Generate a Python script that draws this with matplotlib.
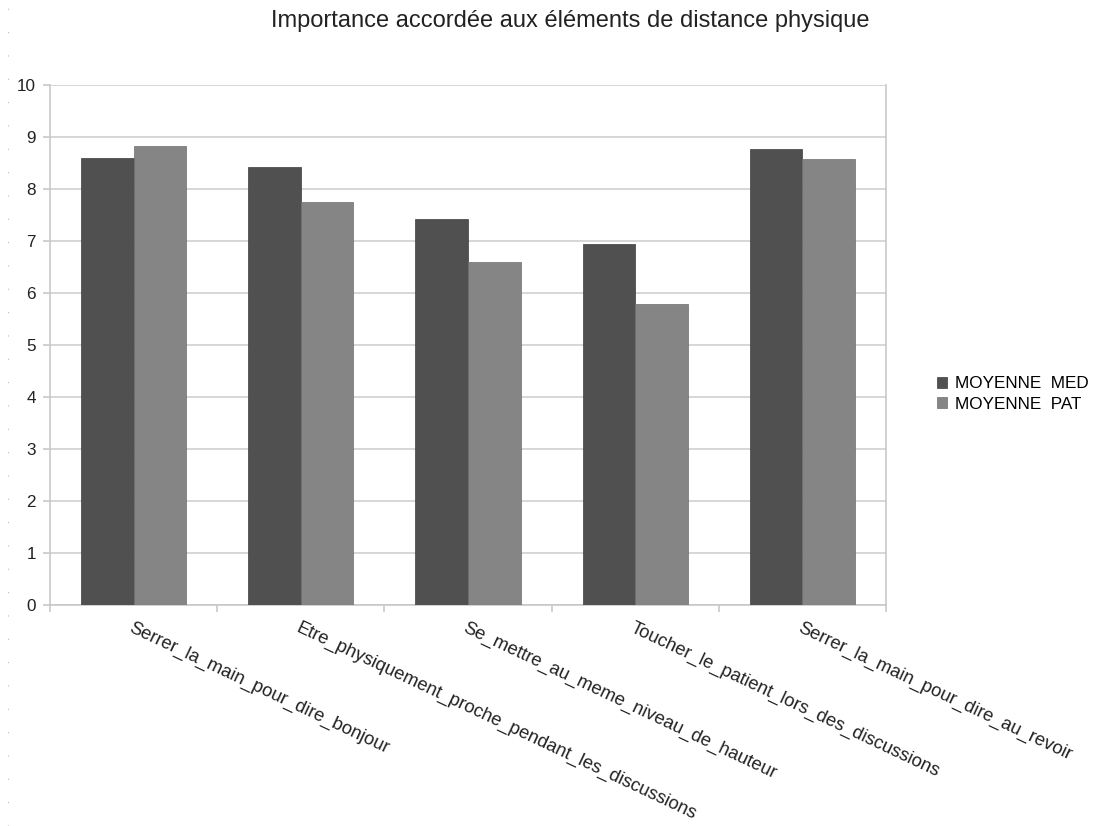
import numpy as np
import matplotlib
matplotlib.use('Agg')
import matplotlib.pyplot as plt
from matplotlib.lines import Line2D

plt.rcParams['font.family'] = ['Liberation Sans', 'DejaVu Sans']

categories = ['Serrer_la_main_pour_dire_bonjour',
              'Etre_physiquement_proche_pendant_les_discussions',
              'Se_mettre_au_meme_niveau_de_hauteur',
              'Toucher_le_patient_lors_des_discussions',
              'Serrer_la_main_pour_dire_au_revoir']
moyenne_med = [8.60, 8.42, 7.42, 6.95, 8.77]
moyenne_pat = [8.83, 7.76, 6.61, 5.80, 8.58]
series_names = ['MOYENNE  MED', 'MOYENNE  PAT']
colors = ['#505050', '#858585']

fig = plt.figure(figsize=(10.96, 8.26), dpi=100)
ax = fig.add_axes([0.0456, 0.2672, 0.7628, 0.6295])

x = np.arange(len(categories))
w = 0.315
ax.bar(x - w/2, moyenne_med, w, color=colors[0], edgecolor='#3c3c3c', linewidth=0.5,
       label=series_names[0], zorder=3)
ax.bar(x + w/2, moyenne_pat, w, color=colors[1], edgecolor='#6e6e6e', linewidth=0.5,
       label=series_names[1], zorder=3)

ax.set_xlim(-0.5, len(categories) - 0.5)
ax.set_ylim(0, 10)
ax.set_yticks(range(0, 11))
ax.yaxis.grid(True, color='#d0d0d0', linewidth=1.2, zorder=0)
ax.set_axisbelow(True)

# category labels at centres, tick marks at boundaries
ax.set_xticks(x)
ax.set_xticklabels(categories, rotation=-25.3, ha='left', va='top',
                   rotation_mode='anchor', fontsize=13.2, color='#222222')
ax.set_xticks(np.arange(-0.5, len(categories)), minor=True)
ax.tick_params(axis='x', which='major', length=0, pad=10)
ax.tick_params(axis='x', which='minor', length=5, width=1.2, color='#c8c8c8')
ax.tick_params(axis='y', length=5, width=1.2, color='#c8c8c8', pad=5,
               labelsize=12.3, labelcolor='#222222')

for side in ['left', 'bottom', 'right']:
    ax.spines[side].set_color('#c8c8c8')
    ax.spines[side].set_linewidth(1.2)
ax.spines['top'].set_visible(False)

fig.text(0.520, 0.975, 'Importance accordée aux éléments de distance physique',
         ha='center', va='center', fontsize=17, color='#222222')

fig.legend(loc='center left', bbox_to_anchor=(0.847, 0.523), frameon=False,
           fontsize=12.3, handlelength=0.6, handleheight=0.6, handletextpad=0.45,
           labelspacing=0.3, borderpad=0)

# page border dots on the left
fig.add_artist(Line2D([0.0075, 0.0075], [0.0, 1.0], transform=fig.transFigure,
                      color='#bbbbbb', linewidth=0.8, linestyle=(0, (1, 20))))

fig.savefig('out.png', dpi=100, facecolor='white')
